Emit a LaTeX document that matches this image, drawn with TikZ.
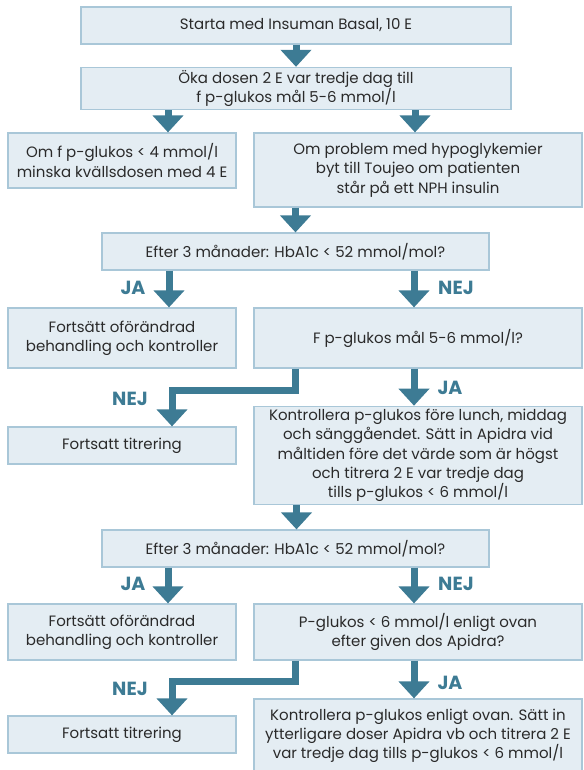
\documentclass[tikz,border=0pt]{standalone}
\usepackage{fontspec}
\setmainfont{Poppins}
\usetikzlibrary{arrows.meta}
\definecolor{pil}{HTML}{3D7B94}
\definecolor{ruta}{HTML}{E4EDF3}
\definecolor{kant}{HTML}{A9C7D8}
\definecolor{txt}{HTML}{2A2A2A}
\begin{document}
\begin{tikzpicture}[x=1pt,y=-1pt,inner sep=1mm,
	box/.style={rectangle,draw=kant,line width=1.2pt,fill=ruta,text=txt,align=center,font=\fontsize{15}{19.3}\selectfont},
	arr/.style={draw=pil,line width=7pt,-{Triangle[width=30pt,length=17pt]}},
	lbl/.style={text=pil,font=\fontsize{19}{19}\selectfont\bfseries}]
	\useasboundingbox (0,0) rectangle (583,770);
	\clip (0,0) rectangle (583,770);
	% rutor
	\node [box,minimum width=430pt,minimum height=37pt] (st) at (296,25.5) {Starta med Insuman Basal, 10 E};
	\node [box,minimum width=430pt,minimum height=37pt] (oka) at (296,88.5) {Öka dosen 2 E var tredje dag till\\f p-glukos mål 5-6 mmol/l};
	\node [box,minimum width=228pt,minimum height=55pt] (lag) at (122,160.5) {Om f p-glukos < 4 mmol/l\\minska kvällsdosen med 4 E};
	\node [box,minimum width=328pt,minimum height=74pt] (hyp) at (418,170) {Om problem med hypoglykemier\\byt till Toujeo om patienten\\står på ett NPH insulin};
	\node [box,minimum width=387pt,minimum height=37pt] (hb1) at (295.5,251.5) {Efter 3 månader: HbA1c < 52 mmol/mol?};
	\node [box,minimum width=228pt,minimum height=60pt] (ofo1) at (122,338) {Fortsätt oförändrad\\behandling och kontroller};
	\node [box,minimum width=328pt,minimum height=60pt] (fpg) at (418,338) {F p-glukos mål 5-6 mmol/l?};
	\node [box,minimum width=228pt,minimum height=37pt] (tit1) at (122,445.5) {Fortsatt titrering};
	\node [box,minimum width=328pt,minimum height=97pt] (kon1) at (418,455.5) {Kontrollera p-glukos före lunch, middag\\och sänggåendet. Sätt in Apidra vid\\måltiden före det värde som är högst\\och titrera 2 E var tredje dag\\tills p-glukos < 6 mmol/l};
	\node [box,minimum width=387pt,minimum height=37pt] (hb2) at (295.5,548.5) {Efter 3 månader: HbA1c < 52 mmol/mol?};
	\node [box,minimum width=228pt,minimum height=56pt] (ofo2) at (122,632) {Fortsätt oförändrad\\behandling och kontroller};
	\node [box,minimum width=328pt,minimum height=56pt] (apd) at (418,632) {P-glukos < 6 mmol/l enligt ovan\\efter given dos Apidra?};
	\node [box,minimum width=228pt,minimum height=37pt] (tit2) at (122,734.5) {Fortsatt titrering};
	\node [box,minimum width=328pt,minimum height=74pt] (kon2) at (418,736) {Kontrollera p-glukos enligt ovan. Sätt in\\ytterligare doser Apidra vb och titrera 2 E\\var tredje dag tills p-glukos < 6 mmol/l};
	% pilar
	\draw [arr] (st.south) -- (oka.north);
	\draw [arr] ([xshift=46pt]lag.north |- oka.south) -- ([xshift=46pt]lag.north);
	\draw [arr] ([xshift=-3pt]hyp.north |- oka.south) -- ([xshift=-3pt]hyp.north);
	\draw [arr] (hb1.north |- hyp.south) -- (hb1.north);
	\draw [arr] ([xshift=47pt]ofo1.north |- hb1.south) -- ([xshift=47pt]ofo1.north);
	\draw [arr] ([xshift=-4pt]fpg.north |- hb1.south) -- ([xshift=-4pt]fpg.north);
	\draw [arr,line join=miter] (hb1.south |- fpg.south) -- ++(0,22) -| ([xshift=50pt]tit1.north);
	\draw [arr] ([xshift=-4pt]kon1.north |- fpg.south) -- ([xshift=-4pt]kon1.north);
	\draw [arr] ([xshift=1pt]hb2.north |- kon1.south) -- ([xshift=1pt]hb2.north);
	\draw [arr] ([xshift=46pt]ofo2.north |- hb2.south) -- ([xshift=46pt]ofo2.north);
	\draw [arr] ([xshift=-4pt]apd.north |- hb2.south) -- ([xshift=-4pt]apd.north);
	\draw [arr,line join=miter] (hb2.south |- apd.south) -- ++(0,21) -| ([xshift=50pt]tit2.north);
	\draw [arr] ([xshift=-4pt]kon2.north |- apd.south) -- ([xshift=-4pt]kon2.north);
	% ja / nej
	\node [lbl] (ja1) at (133,288) {JA};
	\node [lbl] (nej1) at (456,288) {NEJ};
	\node [lbl] (nej2) at (130,399) {NEJ};
	\node [lbl] (ja2) at (450,388) {JA};
	\node [lbl] (ja3) at (133,584) {JA};
	\node [lbl] (nej3) at (456,584) {NEJ};
	\node [lbl] (nej4) at (130,689) {NEJ};
	\node [lbl] (ja4) at (450,683) {JA};
\end{tikzpicture}
\end{document}
